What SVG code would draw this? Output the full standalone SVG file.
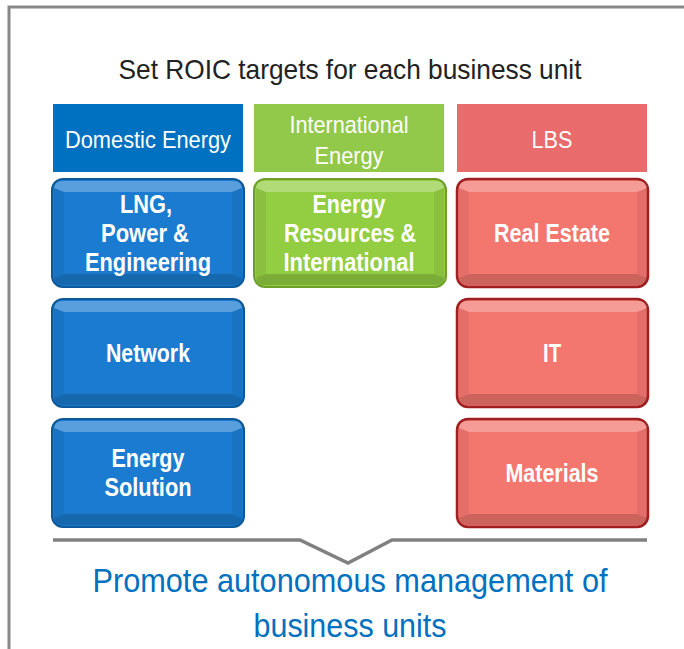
<svg xmlns="http://www.w3.org/2000/svg" width="684" height="649" viewBox="0 0 684 649">
<defs>
<style>
.t{font-family:"Liberation Sans Narrow","Arial Narrow","Liberation Sans",sans-serif;}
.hd{font-size:24px;fill:#fff;text-anchor:middle;}
.bx{font-size:25px;font-weight:bold;fill:#fff;text-anchor:middle;}
.blue .o{fill:#1A7BD0;stroke:#0B5797;stroke-width:2;}
.green .o{fill:#93CD42;stroke:#6E9E2C;stroke-width:2;}
.red .o{fill:#F3766F;stroke:#9E2020;stroke-width:2.5;}
.bt{fill:#fff;fill-opacity:0.28;}
.bb{fill:#000;fill-opacity:0.16;}
.bs{fill:#000;fill-opacity:0.06;}
</style>
<g id="bev">
<path class="bt" d="M10,2 H182 Q189,2 190,9 L180,13 H12 L2,9 Q3,2 10,2 Z"/>
<path class="bb" d="M12,95 H180 L190,99 Q189,106 182,106 H10 Q3,106 2,99 Z"/>
<path class="bs" d="M2,9 L12,13 V95 L2,99 Z"/>
<path class="bs" d="M190,9 L180,13 V95 L190,99 Z"/>
</g>
</defs>
<rect width="684" height="649" fill="#fff"/>
<path d="M9,649 V7 H684" fill="none" stroke="#888" stroke-width="3"/>
<text class="t" x="350" y="79" font-size="28" fill="#222" text-anchor="middle" textLength="463" lengthAdjust="spacingAndGlyphs">Set ROIC targets for each business unit</text>

<g id="hdr-domestic"><rect x="53" y="104" width="190" height="68" fill="#0070C0"/><text class="t hd" x="148" y="148" textLength="166" lengthAdjust="spacingAndGlyphs">Domestic Energy</text></g>
<g id="hdr-international"><rect x="254" y="104" width="190" height="68" fill="#92C94A"/><text class="t hd" x="349" y="133" textLength="119" lengthAdjust="spacingAndGlyphs">International</text><text class="t hd" x="349" y="164" textLength="69" lengthAdjust="spacingAndGlyphs">Energy</text></g>
<g id="hdr-lbs"><rect x="457" y="104" width="190" height="68" fill="#E96B6B"/><text class="t hd" x="552" y="148" textLength="41" lengthAdjust="spacingAndGlyphs">LBS</text></g>

<g id="lng" class="blue"><g transform="translate(52,179)"><rect class="o" width="192" height="108" rx="11"/><use href="#bev"/></g>
<text class="t bx" x="146" y="213" textLength="52" lengthAdjust="spacingAndGlyphs">LNG,</text><text class="t bx" x="145" y="242" textLength="88" lengthAdjust="spacingAndGlyphs">Power &amp;</text><text class="t bx" x="148" y="271" textLength="126" lengthAdjust="spacingAndGlyphs">Engineering</text></g>
<g id="network" class="blue"><g transform="translate(52,299)"><rect class="o" width="192" height="108" rx="11"/><use href="#bev"/></g>
<text class="t bx" x="148" y="362" textLength="84" lengthAdjust="spacingAndGlyphs">Network</text></g>
<g id="solution" class="blue"><g transform="translate(52,419)"><rect class="o" width="192" height="108" rx="11"/><use href="#bev"/></g>
<text class="t bx" x="148" y="467" textLength="73" lengthAdjust="spacingAndGlyphs">Energy</text><text class="t bx" x="148" y="496" textLength="87" lengthAdjust="spacingAndGlyphs">Solution</text></g>

<g id="resources" class="green"><g transform="translate(254,179)"><rect class="o" width="192" height="108" rx="11"/><use href="#bev"/></g>
<text class="t bx" x="349" y="213" textLength="73" lengthAdjust="spacingAndGlyphs">Energy</text><text class="t bx" x="350" y="242" textLength="132" lengthAdjust="spacingAndGlyphs">Resources &amp;</text><text class="t bx" x="349" y="271" textLength="131" lengthAdjust="spacingAndGlyphs">International</text></g>

<g id="realestate" class="red"><g transform="translate(457,179)"><rect class="o" width="191" height="108" rx="11"/><use href="#bev"/></g>
<text class="t bx" x="552" y="242" textLength="116" lengthAdjust="spacingAndGlyphs">Real Estate</text></g>
<g id="it" class="red"><g transform="translate(457,299)"><rect class="o" width="191" height="108" rx="11"/><use href="#bev"/></g>
<text class="t bx" x="552" y="362" textLength="18" lengthAdjust="spacingAndGlyphs">IT</text></g>
<g id="materials" class="red"><g transform="translate(457,419)"><rect class="o" width="191" height="108" rx="11"/><use href="#bev"/></g>
<text class="t bx" x="552" y="482" textLength="93" lengthAdjust="spacingAndGlyphs">Materials</text></g>

<g id="connectors"><path d="M53,540 H300 L348,563 L392,540 H647" fill="none" stroke="#808080" stroke-width="3.5"/></g>

<text class="t" x="350" y="592" font-size="33" fill="#0070C0" text-anchor="middle" textLength="515" lengthAdjust="spacingAndGlyphs">Promote autonomous management of</text>
<text class="t" x="350" y="637" font-size="33" fill="#0070C0" text-anchor="middle" textLength="193" lengthAdjust="spacingAndGlyphs">business units</text>
</svg>
